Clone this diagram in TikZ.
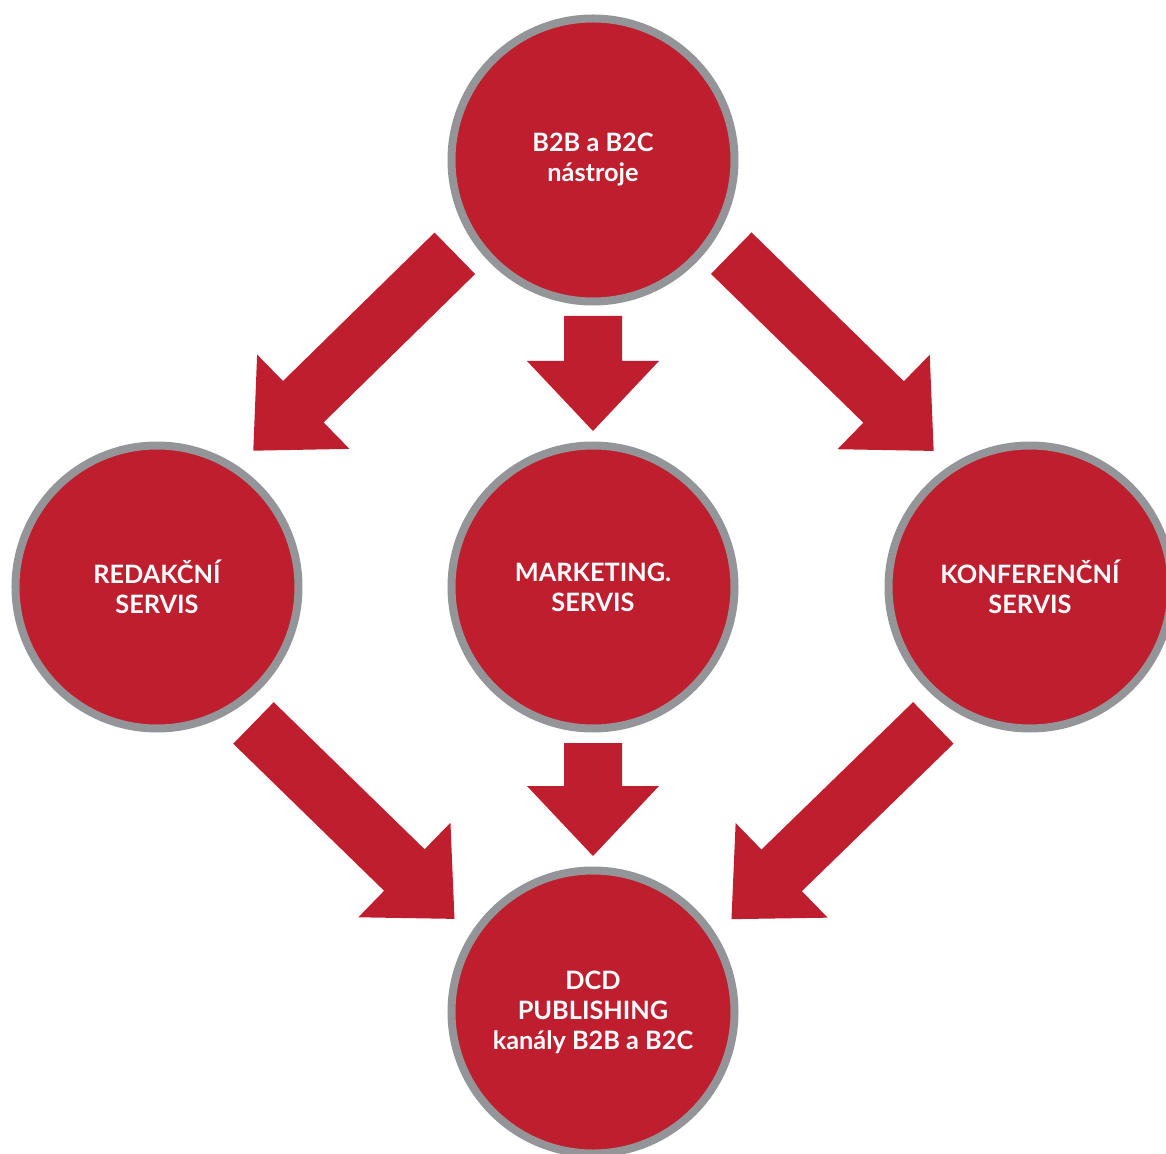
\documentclass[tikz,border=0pt]{standalone}
\usepackage{fontspec}
\setmainfont{Lato}
\usetikzlibrary{positioning,calc}

\definecolor{dcdred}{HTML}{BE1E2D}
\definecolor{dcdgray}{HTML}{939598}

\begin{document}
\begin{tikzpicture}[
	x=1pt, y=1pt
	,on grid
	,ring/.style={circle, draw=dcdgray, fill=dcdred, line width=8pt, minimum size=283pt, inner sep=0pt,
		text=white, align=center, font=\fontsize{25.3}{30}\selectfont\bfseries}
	,bigarrow/.style 2 args={to path={
		let \p1=($(\tikztotarget)-(\tikztostart)$), \n1={atan2(\y1,\x1)}, \n2={veclen(\x1,\y1)} in
		{[shift={(\tikztostart)}, rotate=\n1]
		(#2, #1+29) -- ({\n2-#2-70}, #1+29) -- ({\n2-#2-70}, #1+66) -- ({\n2-#2}, #1)
		-- ({\n2-#2-70}, #1-66) -- ({\n2-#2-70}, #1-29) -- (#2, #1-29) -- cycle}
	}}
]
	\useasboundingbox (-593,-566) rectangle (573,587);

	\node[ring] (marketing) {MARKETING.\\SERVIS};
	\node[ring, above=427pt of marketing] (nastroje) {B2B a B2C\\nástroje};
	\node[ring, left=436pt of marketing] (redakce) {REDAKČNÍ\\SERVIS};
	\node[ring, right=437pt of marketing] (konference) {KONFERENČNÍ\\SERVIS};
	\node[ring, below=425pt of marketing] (dcd) {DCD\\PUBLISHING\\kanály B2B a B2C};

	\fill[dcdred] (nastroje.center) to[bigarrow={-30}{164}] (redakce.center);
	\fill[dcdred] (nastroje.center) to[bigarrow={0}{156}] (marketing.center);
	\fill[dcdred] (nastroje.center) to[bigarrow={30}{164}] (konference.center);
	\fill[dcdred] (redakce.center) to[bigarrow={-30}{164}] (dcd.center);
	\fill[dcdred] (marketing.center) to[bigarrow={0}{156}] (dcd.center);
	\fill[dcdred] (konference.center) to[bigarrow={30}{164}] (dcd.center);
\end{tikzpicture}
\end{document}
